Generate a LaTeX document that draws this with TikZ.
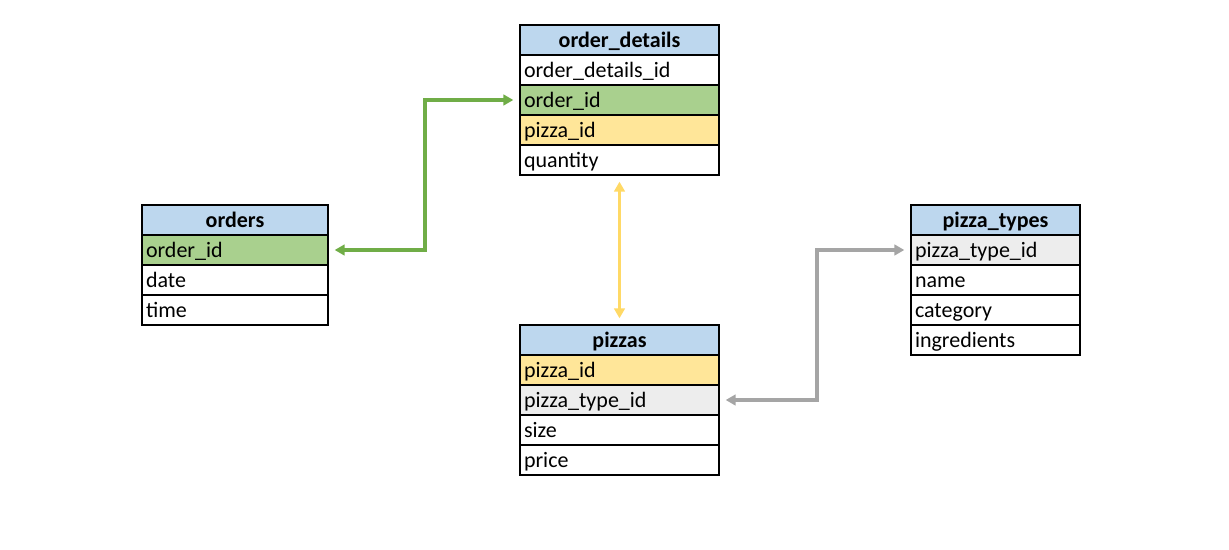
\documentclass[tikz,border=0pt]{standalone}
\usepackage{fontspec}
\setmainfont{Carlito}
\usepackage{tikz}
\usetikzlibrary{positioning,arrows.meta}

\definecolor{headblue}{HTML}{BDD7EE}
\definecolor{keygreen}{HTML}{A9D08E}
\definecolor{keyyellow}{HTML}{FFE699}
\definecolor{keygray}{HTML}{EDEDED}
\definecolor{linkgreen}{HTML}{70AD47}
\definecolor{linkyellow}{HTML}{FFD966}
\definecolor{linkgray}{HTML}{A5A5A5}

\tikzset{
  field/.style={draw, line width=1.5pt, outer sep=0pt, minimum height=22.5pt,
    inner xsep=3pt, inner ysep=0pt, text height=13pt, text depth=2pt,
    align=left, font=\fontsize{16.5pt}{19pt}\selectfont},
  head/.style={field, fill=headblue, align=center,
    font=\fontsize{16.5pt}{19pt}\selectfont\bfseries},
  link/.style={line width=2.4pt, {Triangle[length=7.5pt,width=8pt]}-{Triangle[length=7.5pt,width=8pt]},
    shorten <=5pt, shorten >=5pt}
}

\begin{document}
\begin{tikzpicture}[x=0.75pt, y=-0.75pt]
                \useasboundingbox (0,0) rectangle (1229,550);

                % order_details
                \begin{scope}[nodes={text width=143.25pt}]
                \node[head, anchor=north west] (od-h) at (520,25) {order\_details};
                \node[field, below=0pt of od-h] (od-1) {order\_details\_id};
                \node[field, fill=keygreen, below=0pt of od-1] (od-2) {order\_id};
                \node[field, fill=keyyellow, below=0pt of od-2] (od-3) {pizza\_id};
                \node[field, below=0pt of od-3] (od-4) {quantity};
                \end{scope}

                % orders
                \begin{scope}[nodes={text width=133.5pt}]
                \node[head, anchor=north west] (ord-h) at (142,205) {orders};
                \node[field, fill=keygreen, below=0pt of ord-h] (ord-1) {order\_id};
                \node[field, below=0pt of ord-1] (ord-2) {date};
                \node[field, below=0pt of ord-2] (ord-3) {time};
                \end{scope}

                % pizzas
                \begin{scope}[nodes={text width=143.25pt}]
                \node[head, anchor=north west] (pz-h) at (520,325) {pizzas};
                \node[field, fill=keyyellow, below=0pt of pz-h] (pz-1) {pizza\_id};
                \node[field, fill=keygray, below=0pt of pz-1] (pz-2) {pizza\_type\_id};
                \node[field, below=0pt of pz-2] (pz-3) {size};
                \node[field, below=0pt of pz-3] (pz-4) {price};
                \end{scope}

                % pizza_types
                \begin{scope}[nodes={text width=120.75pt}]
                \node[head, anchor=north west] (pt-h) at (911,205) {pizza\_types};
                \node[field, fill=keygray, below=0pt of pt-h] (pt-1) {pizza\_type\_id};
                \node[field, below=0pt of pt-1] (pt-2) {name};
                \node[field, below=0pt of pt-2] (pt-3) {category};
                \node[field, below=0pt of pt-3] (pt-4) {ingredients};
                \end{scope}

                % Links
                \coordinate (gbend) at (425,175);
                \coordinate (ybend) at (817,330);
                \draw[link, linkgreen] (ord-1.east) -| (gbend) |- (od-2.west);
                \draw[link, linkyellow] (od-4.south) -- (pz-h.north);
                \draw[link, linkgray] (pz-2.east) -| (ybend) |- (pt-1.west);
            \end{tikzpicture}
\end{document}
